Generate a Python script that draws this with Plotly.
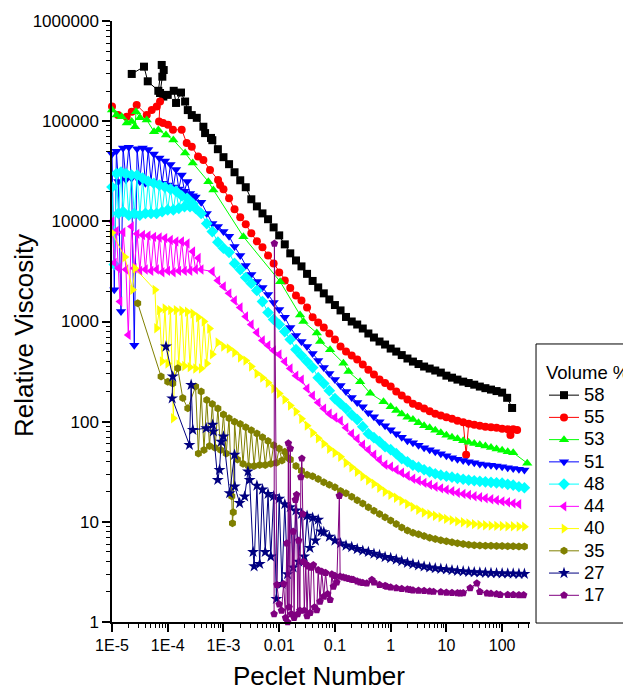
import plotly.graph_objects as go

# ---------------- data ----------------
PE_GRID = [1.00e-5, 1.26e-5, 1.58e-5, 2.00e-5, 2.51e-5, 3.16e-5, 3.98e-5, 5.01e-5, 6.31e-5, 7.94e-5,
           1.00e-4, 1.26e-4, 1.58e-4, 2.00e-4, 2.51e-4, 3.16e-4, 3.98e-4, 5.01e-4, 6.31e-4, 7.94e-4,
           1.00e-3, 1.26e-3, 1.58e-3, 2.00e-3, 2.51e-3, 3.16e-3, 3.98e-3, 5.01e-3, 6.31e-3, 7.94e-3,
           1.00e-2, 1.26e-2, 1.58e-2, 2.00e-2, 2.51e-2, 3.16e-2, 3.98e-2, 5.01e-2, 6.31e-2, 7.94e-2,
           0.100, 0.126, 0.158, 0.200, 0.251, 0.316, 0.398, 0.501, 0.631, 0.794,
           1.00, 1.26, 1.58, 2.00, 2.51, 3.16, 3.98, 5.01, 6.31, 7.94,
           10.0, 12.6, 15.8, 20.0, 25.1, 31.6, 39.8, 50.1, 63.1, 79.4,
           100, 126, 158, 200, 251, 316]

PE_NOISY = [1.0e-5, 1.1e-5, 1.2e-5, 1.3e-5, 1.45e-5, 1.58e-5, 1.78e-5, 2.0e-5, 2.24e-5, 2.51e-5,
            2.82e-5, 3.16e-5, 3.55e-5, 3.98e-5, 4.47e-5, 5.01e-5, 5.62e-5, 6.31e-5, 7.08e-5, 7.94e-5,
            8.91e-5, 1.0e-4, 1.12e-4, 1.26e-4, 1.41e-4, 1.58e-4, 1.78e-4, 2.0e-4, 2.24e-4, 2.51e-4,
            2.82e-4, 3.16e-4]

# 58 %
pe_58 = [2.26e-5, 3.75e-5, 4.38e-5, 6.78e-5, 7.80e-5, 8.47e-5, 8.00e-5, 7.28e-5, 8.34e-5, 1.00e-4,
         1.28e-4, 1.41e-4, 1.73e-4, 2.05e-4, 2.29e-4, 2.70e-4, 3.32e-4, 4.36e-4, 4.68e-4, 5.98e-4] \
        + PE_GRID[18:71] + [123, 151]
eta_58 = [2.96e5, 3.50e5, 2.50e5, 2.01e5, 3.64e5, 3.24e5, 2.78e5, 1.91e5, 1.76e5, 1.83e5,
          2.01e5, 1.52e5, 1.93e5, 1.57e5, 1.29e5, 1.15e5, 1.08e5, 8.8e4, 7.6e4, 6.8e4,
          6.46e4, 5.25e4, 4.37e4, 3.72e4, 3.09e4, 2.57e4, 2.19e4, 1.66e4, 1.41e4, 1.20e4, 1.05e4, 8.7e3, 7.24e3,
          5.89e3, 4.79e3, 4.07e3, 3.55e3, 2.99e3, 2.54e3, 2.19e3, 1.91e3, 1.66e3, 1.46e3,
          1.29e3, 1.11e3, 1.0e3, 933, 851, 759, 692, 631, 589, 537,
          501, 462, 427, 398, 376, 355, 339, 324, 309, 288,
          275, 263, 251, 243, 234, 224, 216, 209, 202, 195,
          173, 137]

# 55 %
pe_55 = [1.0e-5, 1.28e-5, 1.84e-5, 2.26e-5, 2.77e-5, 4.2e-5, 5.16e-5, 6.35e-5, 7.28e-5, 6.98e-5,
         8.24e-5, 1.01e-4, 1.24e-4, 1.78e-4, 2.19e-4, 2.70e-4, 3.5e-4, 4.36e-4, 5.74e-4, 8.0e-4, 8.7e-4] \
        + PE_GRID[20:64] + [22.6] + PE_GRID[64:72] + [141, 158, 186]
eta_55 = [1.40e5, 1.15e5, 1.11e5, 1.24e5, 1.45e5, 1.15e5, 1.29e5, 1.40e5, 1.57e5, 9.9e4,
          9.6e4, 9.2e4, 8.2e4, 8.2e4, 6.05e4, 5.56e4, 4.43e4, 4.1e4, 3.26e4, 2.59e4, 2.31e4,
          2.09e4, 1.70e4, 1.32e4, 1.10e4, 9.33e3, 7.59e3, 6.31e3, 5.50e3, 4.57e3, 3.80e3,
          3.09e3, 2.57e3, 2.16e3, 1.82e3, 1.62e3, 1.38e3, 1.10e3, 977, 871, 759,
          661, 562, 501, 457, 417, 372, 329, 295, 263, 243,
          224, 200, 182, 166, 151, 143, 135, 127, 120, 115,
          111, 107, 102, 98.9,
          46.8,
          95.5, 93.3, 91.2, 89.1, 88.1, 87.1, 85.1, 84.1,
          73.8, 84.1, 82.8]

# 53 %
pe_53 = [1.0e-5, 1.21e-5, 1.49e-5, 1.84e-5, 2.26e-5, 2.59e-5, 2.70e-5, 3.18e-5, 4.2e-5, 5.68e-5,
         6.78e-5, 9.3e-5, 1.26e-4, 2.05e-4, 2.81e-4, 5.36e-4, 6.59e-4, 2.28e-3, 1.04e-2, 2.37e-2,
         2.72e-2, 4.73e-2, 5.42e-2, 8.18e-2, 0.142, 0.175, 0.283, 0.429, 0.743] \
        + PE_GRID[50:73] + [282]
eta_53 = [1.29e5, 1.15e5, 1.11e5, 9.6e4, 9.9e4, 8.8e4, 1.24e5, 1.08e5, 1.03e5, 7.85e4,
          8.17e4, 7.28e4, 6.49e4, 4.82e4, 3.83e4, 2.49e4, 2.06e4, 7.03e3, 2.50e3, 1.16e3,
          1.0e3, 769, 631, 521, 384, 316, 251, 192, 158,
          141, 129, 119, 111, 105, 97.7, 91.2, 87.1, 82.2, 77.6,
          73.3, 70.0, 67.6, 64.6, 62.4, 60.7, 58.9, 57.1, 55.3, 53.5,
          51.9, 50.1, 49.0,
          38.5]

# 51 %
pe_51 = PE_NOISY + PE_GRID[16:75]
eta_51 = [4.7e4, 2.07e3, 5.0e4, 2.5e4, 1.26e3, 5.4e4, 2.6e4, 5.5e4, 2.7e4, 580,
          5.3e4, 2.5e4, 5.4e4, 2.4e4, 5.2e4, 2.5e4, 4.7e4, 2.4e4, 4.3e4, 2.4e4,
          4.0e4, 2.3e4, 3.7e4, 2.2e4, 3.3e4, 2.1e4, 2.9e4, 2.0e4, 2.5e4, 1.9e4,
          1.8e4, 1.75e4,
          1.55e4, 1.20e4, 9.5e3, 8.9e3, 7.9e3, 7.1e3, 5.6e3, 4.57e3, 3.63e3, 2.95e3,
          2.51e3, 2.19e3, 1.86e3, 1.55e3, 1.32e3, 1.10e3, 871, 724, 631, 562,
          479, 407, 347, 302, 263, 229, 200, 174, 155, 141,
          123, 112, 100, 91.2,
          83.2, 75.9, 70.0, 64.6, 61.7, 58.2, 55.0, 52.5, 50.1, 47.9,
          45.7, 43.7, 42.2, 40.9, 39.8, 38.9, 37.8, 37.2, 36.7, 36.1,
          35.5, 34.7, 34.0, 33.5, 33.0]

# 48 %
pe_48 = PE_NOISY + PE_GRID[16:75]
eta_48 = [2.2e4, 3.7e3, 3.0e4, 1.2e4, 3.1e4, 1.25e4, 3.0e4, 1.15e4, 2.9e4, 1.2e4,
          2.9e4, 1.15e4, 2.7e4, 1.2e4, 2.5e4, 1.2e4, 2.4e4, 1.2e4, 2.3e4, 1.25e4,
          2.2e4, 1.3e4, 2.1e4, 1.3e4, 2.0e4, 1.35e4, 1.8e4, 1.4e4, 1.7e4, 1.4e4,
          1.5e4, 1.35e4,
          1.20e4, 9.5e3, 7.9e3, 6.2e3, 5.4e3, 4.9e3, 3.8e3, 3.3e3, 2.75e3, 2.4e3,
          2.04e3, 1.58e3, 1.23e3, 1.05e3, 933, 794, 661, 525, 457, 398,
          347, 275, 240, 204, 170, 151, 135, 117, 105, 89.1,
          75.9, 69.2, 63.1, 56.2,
          52.5, 47.9, 42.7, 39.8, 36.7, 35.1, 33.1, 31.6, 30.2, 29.2,
          28.5, 27.9, 27.2, 26.6, 26.1, 25.7, 25.4, 25.1, 24.8, 24.5,
          24.3, 23.7, 23.2, 22.4, 21.9]

# 44 %
pe_44 = [1.0e-5, 1.1e-5, 1.2e-5, 1.3e-5, 1.39e-5, 1.58e-5, 1.78e-5, 1.96e-5, 2.24e-5, 2.51e-5,
         2.82e-5, 3.16e-5, 3.55e-5, 3.98e-5, 4.47e-5, 5.01e-5, 5.62e-5, 6.31e-5, 7.08e-5, 7.94e-5,
         8.91e-5, 1.0e-4, 1.12e-4, 1.26e-4, 1.41e-4, 1.58e-4, 1.78e-4, 2.0e-4, 2.24e-4, 2.51e-4,
         2.82e-4, 3.16e-4, 3.55e-4, 3.98e-4] + PE_GRID[18:74]
eta_44 = [1.0e4, 3.85e3, 8.0e3, 3.4e3, 1.58e3, 7.8e3, 3.3e3, 735, 8.9e3, 3.4e3,
          7.5e3, 3.2e3, 7.3e3, 3.3e3, 7.2e3, 3.2e3, 7.0e3, 3.3e3, 6.9e3, 3.1e3,
          6.8e3, 3.2e3, 6.5e3, 3.1e3, 6.3e3, 3.2e3, 6.3e3, 3.2e3, 6.0e3, 3.2e3,
          5.0e3, 3.3e3, 4.3e3, 3.3e3,
          3.16e3, 2.57e3, 2.24e3, 1.91e3, 1.62e3, 1.38e3, 1.12e3, 933, 776, 646,
          575, 513, 468, 398, 339, 288, 263, 214, 182, 155,
          135, 120, 110, 102, 87.1, 75.9, 67.6, 58.9, 52.5, 46.8,
          41.7, 37.2,
          35.5, 33.1, 30.9, 28.8, 26.9, 25.7, 24.5, 23.4, 22.4, 21.6,
          20.9, 20.2, 19.5, 19.0, 18.5, 18.0, 17.6, 17.2, 16.8, 16.4,
          16.0, 15.7, 15.3, 15.0]

# 40 %
pe_40 = [1.0e-5, 1.70e-5, 2.34e-5, 2.57e-5, 5.9e-5, 6.3e-5,
         7.08e-5, 7.94e-5, 8.91e-5, 1.0e-4, 1.12e-4, 1.26e-4, 1.41e-4, 1.58e-4, 1.78e-4, 2.0e-4,
         2.24e-4, 2.51e-4, 2.82e-4, 3.16e-4, 3.55e-4, 3.98e-4, 4.47e-4, 5.01e-4, 5.62e-4, 6.31e-4] \
        + PE_GRID[19:75]
eta_40 = [7.7e3, 4.4e3, 2.07e3, 3.4e3, 2.07e3, 857,
          1.3e3, 400, 1.35e3, 380, 1.3e3, 108, 1.3e3, 370, 1.28e3, 360,
          1.25e3, 350, 1.2e3, 340, 1.1e3, 340, 1.0e3, 380, 850, 470,
          617, 562, 537, 490, 437, 407, 355, 302, 275, 245,
          214, 191, 166, 145, 126, 107, 91.2, 77.6, 68.4, 60.3,
          53.7, 49.0, 44.7, 38.9, 35.1, 31.6, 28.5, 26.0, 24.0, 21.9,
          20.0,
          18.6, 17.4, 16.2, 15.1, 14.1, 13.2, 12.4, 11.9, 11.5, 11.1,
          10.7, 10.4, 10.1, 9.89, 9.66, 9.48, 9.33, 9.23, 9.16, 9.12,
          9.08, 9.04, 9.02, 8.97, 8.95]

# 35 %
pe_35 = [2.89e-5, 7.6e-5, 1.0e-4, 1.23e-4, 1.51e-4, 1.86e-4, 2.29e-4,
         3.16e-4, 3.55e-4, 3.98e-4, 4.47e-4, 5.01e-4, 5.62e-4, 6.31e-4, 7.08e-4, 7.94e-4, 8.91e-4,
         1.0e-3, 1.12e-3, 1.26e-3, 1.41e-3, 1.45e-3, 1.5e-3, 1.58e-3, 1.78e-3, 2.0e-3, 2.24e-3,
         2.51e-3, 2.82e-3, 3.16e-3, 3.55e-3, 3.98e-3, 4.47e-3, 5.01e-3, 5.62e-3, 6.31e-3, 7.08e-3,
         7.94e-3, 8.91e-3, 1.0e-2, 1.12e-2, 1.26e-2, 1.41e-2] + PE_GRID[32:75]
eta_35 = [1.52e3, 282, 251, 240, 342, 172, 136,
          224, 48, 200, 52, 165, 57, 150, 55, 135, 52,
          118, 48, 108, 18, 9.7, 12.5, 100, 42, 95, 38,
          88, 36, 82, 36, 76, 37, 70, 37, 64, 38,
          58, 39, 54, 41, 50, 44,
          42, 36, 32.3, 29.5, 28.5, 26.8, 24.8, 23.5, 22.2, 20.3,
          19.3, 17.8, 16.4, 15.2, 14.0, 12.9, 12.0, 11.1,
          10.3, 9.5, 8.8, 8.2, 7.8, 7.5, 7.2, 6.95, 6.75, 6.55,
          6.4, 6.25, 6.1, 6.0, 5.9, 5.85, 5.8, 5.78, 5.76, 5.75,
          5.74, 5.72, 5.7, 5.68, 5.67]

# 27 %
pe_27 = [9.3e-5, 1.23e-4, 1.2e-4, 2.45e-4, 2.63e-4, 2.82e-4, 4.9e-4, 6.4e-4, 6.6e-4, 7.9e-4,
         8.5e-4, 9.1e-4, 1.0e-3, 1.29e-3, 1.58e-3, 1.6e-3, 1.95e-3, 2.4e-3, 2.75e-3, 2.95e-3, 3.4e-3,
         3.55e-3, 3.98e-3, 4.47e-3, 5.01e-3, 5.62e-3, 6.31e-3, 7.08e-3, 7.94e-3, 8.91e-3, 1.0e-2,
         1.12e-2, 1.26e-2, 1.41e-2, 1.58e-2, 1.78e-2, 2.0e-2, 2.24e-2, 2.51e-2, 2.82e-2, 3.16e-2,
         3.55e-2, 3.98e-2, 4.47e-2, 5.01e-2, 5.62e-2] + PE_GRID[38:75]
eta_27 = [562, 282, 171, 58.6, 233, 82.8, 86, 93, 80, 26.2,
          33, 63, 71, 19.3, 46.7, 22.5, 15.4, 17.9, 31.8, 26.2, 5.0,
          3.6, 23, 3.8, 21, 5, 19, 4.5, 18, 1.7, 17,
          2.4, 15, 3.0, 14, 3.5, 13, 4.0, 12, 4.5, 11.5,
          5.5, 11, 6.5, 10.5, 8,
          7.9, 7.1, 6.5, 6.1, 5.8, 5.6, 5.35, 5.15, 5.0, 4.8,
          4.65, 4.45,
          4.35, 4.2, 4.05, 3.9, 3.78, 3.67, 3.58, 3.5, 3.44, 3.39,
          3.35, 3.29, 3.24, 3.2, 3.17, 3.14, 3.12, 3.1, 3.08, 3.07,
          3.06, 3.05, 3.04, 3.03, 3.02]

# 17 %
pe_17 = [8.1e-3, 8.2e-3, 9.1e-3, 1.0e-2, 1.1e-2, 1.2e-2, 1.3e-2, 1.37e-2, 1.42e-2, 1.46e-2,
         1.5e-2, 1.58e-2, 1.65e-2, 1.78e-2, 1.85e-2, 1.95e-2, 2.05e-2, 2.15e-2, 2.24e-2, 2.35e-2,
         2.45e-2, 2.55e-2, 2.65e-2, 2.72e-2, 2.82e-2, 3.0e-2, 3.16e-2, 3.35e-2, 3.6e-2, 3.8e-2,
         4.1e-2, 4.3e-2, 4.73e-2, 5.0e-2, 5.4e-2, 5.8e-2, 6.3e-2, 6.8e-2, 7.4e-2, 8.2e-2,
         8.8e-2, 9.4e-2, 0.1, 0.108, 0.12, 0.124,
         0.141, 0.158, 0.178, 0.2, 0.215, 0.251, 0.282, 0.316, 0.373, 0.46,
         0.5, 0.63, 0.794, 0.85, 1.0, 1.26, 1.58, 2.0, 2.24, 2.51,
         3.16, 3.98, 5.01, 5.87, 7.94, 10, 12.6, 15.8, 17.7, 20,
         26.7, 35.2, 39.8, 53.3, 63.1, 79.4, 92.5, 126, 158, 200, 243]
eta_17 = [1.2, 6000, 2.35, 1.5, 1.3, 2.4, 1.1, 6.1, 1.0, 61,
          1.4, 54, 1.2, 8, 1.1, 16.6, 18.6, 1.2, 6.5, 1.3,
          28, 43, 12, 4.0, 1.3, 3.8, 1.15, 3.6, 1.24, 3.5,
          3.7, 1.4, 1.32, 3.3, 1.6, 3.2, 1.8, 3.1, 1.9, 1.67,
          3.0, 2.26, 2.9, 2.5, 18.2, 2.85,
          2.8, 2.75, 2.7, 2.65, 2.64, 2.55, 2.5, 2.47, 2.44, 2.64,
          2.5, 2.35, 2.3, 2.26, 2.22, 2.18, 2.15, 2.12, 2.1, 2.08,
          2.06, 2.05, 2.03, 2.01, 1.99, 1.97, 1.96, 1.95, 1.94, 1.95,
          2.18, 2.44, 2.0, 1.94, 1.92, 1.9, 1.87, 1.87, 1.87, 1.86, 1.86]

NAMES = ["58", "55", "53", "51", "48", "44", "40", "35", "27", "17"]
COLORS = ["#000000", "#FF0000", "#00FF00", "#0000FF", "#00FFFF", "#FF00FF", "#FFFF00",
          "#808000", "#000080", "#800080"]
SYMBOLS = ["square", "circle", "triangle-up", "triangle-down", "diamond", "triangle-left",
           "triangle-right", "hexagon", "star", "pentagon"]
SIZES = [8, 8, 9, 9, 9, 9, 9, 8, 9, 8]
PE = [pe_58, pe_55, pe_53, pe_51, pe_48, pe_44, pe_40, pe_35, pe_27, pe_17]
ETA = [eta_58, eta_55, eta_53, eta_51, eta_48, eta_44, eta_40, eta_35, eta_27, eta_17]

X_TICKS = [1e-5, 1e-4, 1e-3, 1e-2, 1e-1, 1, 10, 100]
X_LABELS = ["1E-5", "1E-4", "1E-3", "0.01", "0.1", "1", "10", "100"]
Y_TICKS = [1, 10, 100, 1000, 10000, 100000, 1000000]
Y_LABELS = ["1", "10", "100", "1000", "10000", "100000", "1000000"]

for p, e, n in zip(PE, ETA, NAMES):
    assert len(p) == len(e), (n, len(p), len(e))

# ---------------- figure ----------------
# the page has an 8 px body margin, so the figure is 8 px smaller and margins shifted
FONT = "Liberation Sans, Arial, sans-serif"
fig = go.Figure()
for n, c, s, sz, p, e in zip(NAMES, COLORS, SYMBOLS, SIZES, PE, ETA):
    fig.add_trace(go.Scatter(
        x=p, y=e, name="<span style='font-size:18.5px'>" + n + "</span>",
        mode="lines+markers", cliponaxis=False,
        line=dict(color=c, width=1),
        marker=dict(symbol=s, size=sz, color=c, line=dict(width=0)),
    ))

x_minor = [m * 10.0 ** d for d in range(-5, 3) for m in range(2, 10) if m * 10.0 ** d <= 316]
y_minor = [m * 10.0 ** d for d in range(0, 6) for m in range(2, 10)]

axis_common = dict(
    type="log", showgrid=False, zeroline=False, showline=True, linecolor="black", linewidth=1.5,
    ticks="outside", ticklen=8, tickwidth=1.5, tickcolor="black", mirror=False, tickmode="array",
)
fig.update_layout(
    width=623, height=682,
    margin=dict(l=104, r=101, t=13, b=68, autoexpand=False),
    paper_bgcolor="white", plot_bgcolor="white",
    font=dict(family=FONT, color="black"),
    xaxis=dict(axis_common, range=[-5, 2.5], tickvals=X_TICKS, ticktext=X_LABELS,
               tickfont=dict(family=FONT, size=16, color="black"),
               minor=dict(ticks="outside", ticklen=4, tickwidth=1, tickcolor="black",
                          tickmode="array", tickvals=x_minor, showgrid=False)),
    yaxis=dict(axis_common, range=[0, 6], tickvals=Y_TICKS, ticktext=Y_LABELS,
               tickfont=dict(family=FONT, size=17, color="black"),
               minor=dict(ticks="outside", ticklen=4, tickwidth=1, tickcolor="black",
                          tickmode="array", tickvals=y_minor, showgrid=False)),
    showlegend=True,
    legend=dict(
        x=1.0335, y=0.4443, xanchor="left", yanchor="top",
        borderwidth=0, bgcolor="rgba(0,0,0,0)",
        font=dict(family=FONT, size=14.8, color="black"),
        title=dict(text="Volume %", font=dict(family=FONT, size=18.5, color="black")),
        tracegroupgap=0,
    ),
    shapes=[dict(type="rect", xref="paper", yref="paper", x0=1.0144, x1=1.4,
                 y0=-0.0017, y1=0.4626, line=dict(color="black", width=1),
                 fillcolor="rgba(0,0,0,0)", layer="below")],
    annotations=[
        dict(text="Relative Viscosity", xref="paper", yref="paper", x=-0.2105, y=0.476,
             xanchor="center", yanchor="middle", textangle=-90, showarrow=False,
             font=dict(family=FONT, size=26, color="black")),
        dict(text="Peclet Number", xref="paper", yref="paper", x=0.495, y=-0.0899,
             xanchor="center", yanchor="middle", showarrow=False,
             font=dict(family=FONT, size=26, color="black")),
    ],
)

fig.write_html("out.html")
